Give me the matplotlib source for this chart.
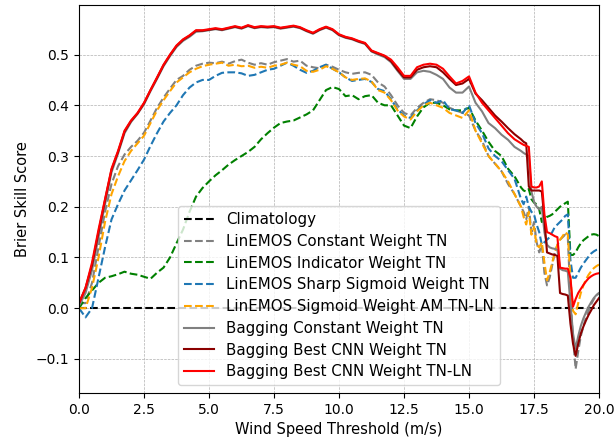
import matplotlib

matplotlib.use("Agg")
import matplotlib.pyplot as plt
import numpy as np

# thresholds: 0.25 m/s steps up to 17, then 0.1 m/s steps up to 20
thresholds = np.round(np.concatenate([np.arange(0, 17.01, 0.25), np.arange(17.1, 20.01, 0.1)]), 2)

lin_const = [
    0.01, 0.01, 0.05, 0.12, 0.19, 0.245, 0.28, 0.303, 0.318, 0.33, 0.346, 0.37, 0.395,
    0.415, 0.433, 0.45, 0.458, 0.47, 0.478, 0.482, 0.484, 0.483, 0.486, 0.482, 0.487,
    0.49, 0.484, 0.48, 0.483, 0.48, 0.485, 0.488, 0.491, 0.486, 0.488, 0.478, 0.475,
    0.473, 0.48, 0.476, 0.47, 0.465, 0.462, 0.464, 0.465, 0.46, 0.445, 0.437, 0.42,
    0.4, 0.385, 0.38, 0.395, 0.405, 0.412, 0.41, 0.405, 0.395, 0.39, 0.385, 0.38,
    0.35, 0.33, 0.3, 0.285, 0.27, 0.245, 0.225, 0.2,
    0.19, 0.175, 0.2, 0.15, 0.17, 0.13, 0.11, 0.125, 0.07, 0.045,
    0.06, 0.085, 0.11, 0.125, 0.135, 0.14, 0.145, 0.14, 0.02, -0.06,
    -0.12, -0.085, -0.055, -0.035, -0.018, -0.005, 0.008, 0.018, 0.025, 0.03,
]
lin_indicator = [
    0.0, 0.02, 0.035, 0.05, 0.06, 0.063, 0.067, 0.072, 0.068, 0.066, 0.062, 0.058, 0.07,
    0.08, 0.1, 0.128, 0.155, 0.19, 0.22, 0.237, 0.25, 0.262, 0.272, 0.283, 0.292,
    0.3, 0.308, 0.318, 0.333, 0.345, 0.356, 0.365, 0.368, 0.37, 0.376, 0.382, 0.39,
    0.41, 0.43, 0.436, 0.432, 0.418, 0.42, 0.412, 0.418, 0.42, 0.405, 0.4, 0.4,
    0.38, 0.36, 0.355, 0.378, 0.396, 0.405, 0.405, 0.4, 0.392, 0.39, 0.39, 0.395,
    0.37, 0.35, 0.328, 0.31, 0.3, 0.275, 0.26, 0.238,
    0.232, 0.23, 0.235, 0.215, 0.208, 0.205, 0.195, 0.17, 0.175, 0.18,
    0.182, 0.185, 0.19, 0.195, 0.2, 0.203, 0.207, 0.21, 0.105, 0.105,
    0.11, 0.12, 0.128, 0.134, 0.138, 0.142, 0.145, 0.146, 0.145, 0.142,
]
lin_sharp = [
    0.0, -0.018, 0.0, 0.06, 0.12, 0.175, 0.205, 0.232, 0.252, 0.272, 0.293, 0.32, 0.345,
    0.368, 0.385, 0.4, 0.42, 0.435, 0.445, 0.45, 0.45, 0.458, 0.464, 0.465, 0.465,
    0.463, 0.458, 0.46, 0.465, 0.47, 0.472, 0.478, 0.484, 0.478, 0.47, 0.464, 0.468,
    0.475, 0.48, 0.472, 0.465, 0.455, 0.448, 0.45, 0.452, 0.446, 0.432, 0.428, 0.412,
    0.392, 0.38, 0.375, 0.39, 0.402, 0.41, 0.405, 0.41, 0.392, 0.39, 0.385, 0.4,
    0.365, 0.345, 0.315, 0.3, 0.29, 0.272, 0.255, 0.215,
    0.205, 0.22, 0.2, 0.19, 0.185, 0.165, 0.15, 0.125, 0.13, 0.135,
    0.14, 0.15, 0.16, 0.165, 0.17, 0.175, 0.182, 0.185, 0.095, 0.06,
    0.06, 0.07, 0.08, 0.088, 0.095, 0.102, 0.108, 0.112, 0.115, 0.116,
]
lin_sigmoid = [
    0.0, 0.0, 0.04, 0.1, 0.17, 0.225, 0.26, 0.29, 0.31, 0.325, 0.34, 0.365, 0.39,
    0.41, 0.428, 0.445, 0.455, 0.465, 0.472, 0.477, 0.48, 0.482, 0.484, 0.478, 0.48,
    0.477, 0.478, 0.474, 0.476, 0.474, 0.478, 0.48, 0.484, 0.48, 0.477, 0.468, 0.466,
    0.47, 0.477, 0.472, 0.465, 0.455, 0.45, 0.452, 0.453, 0.447, 0.43, 0.425, 0.41,
    0.39, 0.378, 0.372, 0.388, 0.4, 0.405, 0.4, 0.395, 0.385, 0.38, 0.375, 0.39,
    0.35, 0.325, 0.3, 0.285, 0.27, 0.25, 0.225, 0.2,
    0.18, 0.165, 0.19, 0.145, 0.16, 0.125, 0.12, 0.13, 0.09, 0.055,
    0.07, 0.09, 0.11, 0.125, 0.135, 0.142, 0.15, 0.145, 0.06, -0.005,
    -0.012, 0.01, 0.03, 0.045, 0.057, 0.066, 0.073, 0.079, 0.083, 0.086,
]
bag_const = [
    0.005, 0.03, 0.075, 0.14, 0.205, 0.268, 0.305, 0.345, 0.367, 0.383, 0.402, 0.428, 0.452,
    0.477, 0.497, 0.515, 0.527, 0.535, 0.545, 0.546, 0.548, 0.55, 0.548, 0.551, 0.554,
    0.551, 0.556, 0.552, 0.554, 0.553, 0.554, 0.551, 0.553, 0.555, 0.552, 0.546, 0.541,
    0.548, 0.553, 0.548, 0.538, 0.533, 0.53, 0.525, 0.521, 0.506, 0.5, 0.495, 0.485,
    0.468, 0.452, 0.452, 0.465, 0.468, 0.466, 0.46, 0.452, 0.435, 0.425, 0.425, 0.437,
    0.405, 0.388, 0.365, 0.355, 0.342, 0.332, 0.318, 0.31,
    0.306, 0.303, 0.3, 0.23, 0.21, 0.2, 0.195, 0.2, 0.15, 0.125,
    0.12, 0.118, 0.117, 0.115, 0.078, 0.075, 0.074, 0.072, 0.01, -0.05,
    -0.08, -0.055, -0.035, -0.02, -0.008, 0.003, 0.012, 0.02, 0.026, 0.03,
]
bag_cnn = [
    0.01, 0.04, 0.085, 0.15, 0.213, 0.273, 0.308, 0.348, 0.369, 0.384, 0.404, 0.43, 0.454,
    0.479, 0.499, 0.517, 0.529, 0.537, 0.547, 0.547, 0.549, 0.551, 0.549, 0.552, 0.555,
    0.552, 0.557, 0.553, 0.555, 0.554, 0.555, 0.552, 0.554, 0.556, 0.553, 0.547, 0.542,
    0.549, 0.554, 0.549, 0.539, 0.534, 0.531, 0.526, 0.522, 0.507, 0.502, 0.497, 0.487,
    0.47, 0.455, 0.455, 0.47, 0.475, 0.477, 0.475, 0.465, 0.452, 0.44, 0.443, 0.452,
    0.423, 0.41, 0.395, 0.38, 0.368, 0.355, 0.343, 0.333,
    0.328, 0.325, 0.24, 0.232, 0.232, 0.232, 0.232, 0.23, 0.175, 0.11,
    0.108, 0.106, 0.105, 0.103, 0.03, 0.028, 0.027, 0.025, -0.03, -0.07,
    -0.094, -0.07, -0.05, -0.036, -0.024, -0.013, -0.004, 0.006, 0.013, 0.02,
]
bag_cnn_ln = [
    0.01, 0.04, 0.09, 0.155, 0.215, 0.275, 0.31, 0.35, 0.37, 0.385, 0.405, 0.43, 0.455,
    0.48, 0.5, 0.518, 0.53, 0.538, 0.548, 0.548, 0.55, 0.552, 0.55, 0.553, 0.556,
    0.553, 0.558, 0.554, 0.556, 0.555, 0.556, 0.553, 0.555, 0.557, 0.554, 0.548, 0.543,
    0.55, 0.555, 0.55, 0.54, 0.535, 0.532, 0.527, 0.523, 0.508, 0.503, 0.498, 0.49,
    0.475, 0.458, 0.458, 0.475, 0.48, 0.482, 0.48, 0.472, 0.457, 0.443, 0.448, 0.457,
    0.425, 0.405, 0.39, 0.375, 0.36, 0.345, 0.333, 0.325,
    0.322, 0.32, 0.318, 0.24, 0.238, 0.238, 0.24, 0.25, 0.185, 0.15,
    0.148, 0.145, 0.142, 0.14, 0.08, 0.079, 0.078, 0.078, 0.06, 0.003,
    0.018, 0.03, 0.038, 0.046, 0.053, 0.059, 0.063, 0.066, 0.068, 0.069,
]

DASHED = [
    ("LinEMOS Constant Weight TN", lin_const, "grey"),
    ("LinEMOS Indicator Weight TN", lin_indicator, "green"),
    ("LinEMOS Sharp Sigmoid Weight TN", lin_sharp, "tab:blue"),
    ("LinEMOS Sigmoid Weight AM TN-LN", lin_sigmoid, "orange"),
]
SOLID = [
    ("Bagging Constant Weight TN", bag_const, "grey"),
    ("Bagging Best CNN Weight TN", bag_cnn, "darkred"),
    ("Bagging Best CNN Weight TN-LN", bag_cnn_ln, "red"),
]


def main() -> None:
    fig = plt.figure(figsize=(6.14, 4.41), dpi=100)
    ax = fig.add_axes([0.1287, 0.109, 0.8469, 0.880])

    ax.plot(thresholds, np.zeros_like(thresholds), color="black", ls="--", lw=1.5,
            label="Climatology")
    for label, vals, color in DASHED:
        ax.plot(thresholds, vals, color=color, ls="--", lw=1.5, label=label)
    for label, vals, color in SOLID:
        ax.plot(thresholds, vals, color=color, lw=1.5, label=label)

    ax.set_xlim(0, 20)
    ax.set_ylim(-0.167, 0.598)
    ax.set_xlabel("Wind Speed Threshold (m/s)", fontsize=10.5)
    ax.set_ylabel("Brier Skill Score", fontsize=10.5)
    ax.grid(True, ls="--", lw=0.5)
    ax.legend(loc="lower center", fontsize=10.8, labelspacing=0.45)

    fig.savefig("out.png", dpi=100)
    plt.close(fig)


if __name__ == "__main__":
    main()
